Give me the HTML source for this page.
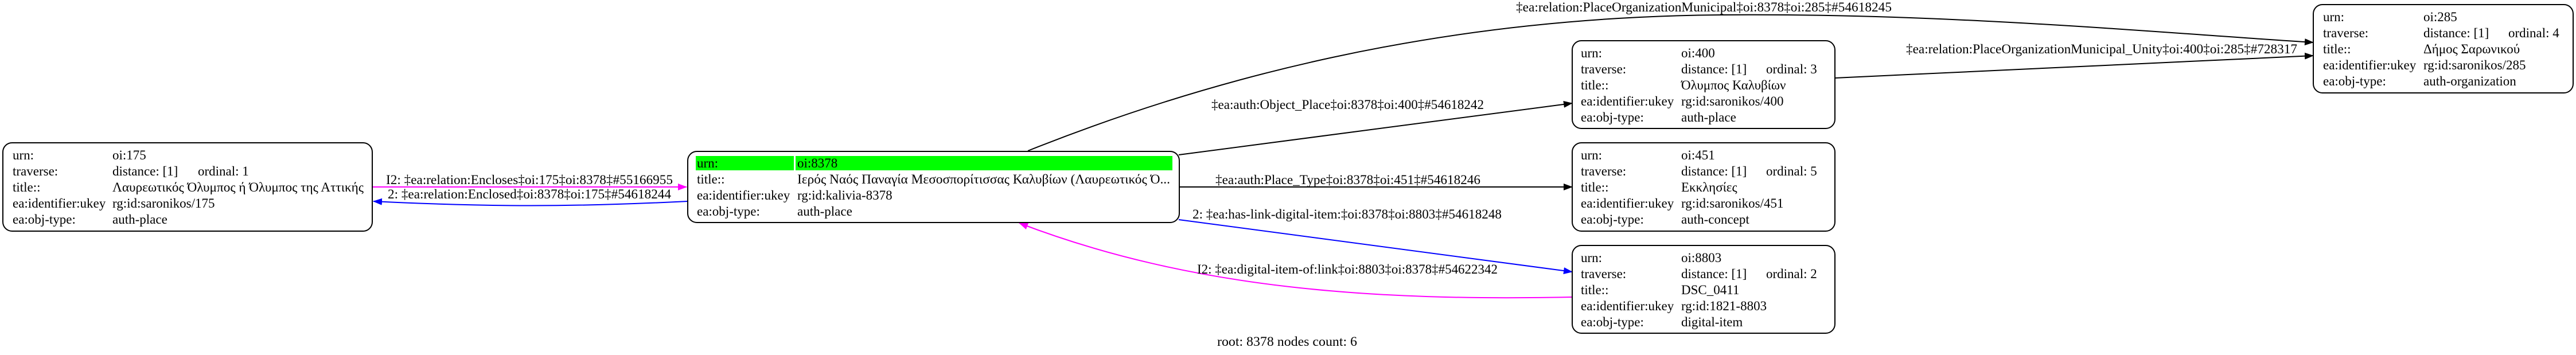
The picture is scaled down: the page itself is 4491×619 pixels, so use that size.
<!DOCTYPE html>
<html><head><meta charset="utf-8"><style>
html,body{margin:0;padding:0;background:#fff;width:4491px;height:619px;overflow:hidden}
svg{display:block}
text{font-family:"Liberation Serif","Noto Serif CJK SC",serif;font-size:23px;fill:#000}
</style></head><body>
<svg width="4491" height="619" viewBox="0 0 4491 619" xmlns="http://www.w3.org/2000/svg">
<defs>
<marker id="ak" markerWidth="16" markerHeight="12" refX="15" refY="6" orient="auto" markerUnits="userSpaceOnUse"><path d="M0,0 L16,6 L0,12 z" fill="#000"/></marker>
<marker id="ab" markerWidth="16" markerHeight="12" refX="15" refY="6" orient="auto" markerUnits="userSpaceOnUse"><path d="M0,0 L16,6 L0,12 z" fill="#0000ff"/></marker>
<marker id="am" markerWidth="16" markerHeight="12" refX="15" refY="6" orient="auto" markerUnits="userSpaceOnUse"><path d="M0,0 L16,6 L0,12 z" fill="#ff00ff"/></marker>
</defs>

<path d="M649,326 L1197,326" stroke="#ff00ff" stroke-width="2" fill="none" marker-end="url(#am)"/>
<path d="M1199,351 C1000,361 850,361 651,351" stroke="#0000ff" stroke-width="2" fill="none" marker-end="url(#ab)"/>
<path d="M1792,263 C2100,140 2500,30 3000,26 C3400,22 3800,60 4033,74" stroke="#000" stroke-width="2" fill="none" marker-end="url(#ak)"/>
<path d="M2055,270 L2741,180" stroke="#000" stroke-width="2" fill="none" marker-end="url(#ak)"/>
<path d="M2055,326 L2741,326" stroke="#000" stroke-width="2" fill="none" marker-end="url(#ak)"/>
<path d="M2055,383 L2741,474" stroke="#0000ff" stroke-width="2" fill="none" marker-end="url(#ab)"/>
<path d="M2741,518 C2400,525 2080,505 1777,389" stroke="#ff00ff" stroke-width="2" fill="none" marker-end="url(#am)"/>
<path d="M3199,136 L4033,97" stroke="#000" stroke-width="2" fill="none" marker-end="url(#ak)"/>

<text x="673" y="321" textLength="500" lengthAdjust="spacingAndGlyphs">I2: ‡ea:relation:Encloses‡oi:175‡oi:8378‡#55166955</text>
<text x="676" y="346" textLength="494" lengthAdjust="spacingAndGlyphs">2: ‡ea:relation:Enclosed‡oi:8378‡oi:175‡#54618244</text>
<text x="2643" y="20" textLength="655" lengthAdjust="spacingAndGlyphs">‡ea:relation:PlaceOrganizationMunicipal‡oi:8378‡oi:285‡#54618245</text>
<text x="2112" y="190" textLength="475" lengthAdjust="spacingAndGlyphs">‡ea:auth:Object_Place‡oi:8378‡oi:400‡#54618242</text>
<text x="2119" y="321" textLength="462" lengthAdjust="spacingAndGlyphs">‡ea:auth:Place_Type‡oi:8378‡oi:451‡#54618246</text>
<text x="2079" y="381" textLength="539" lengthAdjust="spacingAndGlyphs">2: ‡ea:has-link-digital-item:‡oi:8378‡oi:8803‡#54618248</text>
<text x="2087" y="477" textLength="524" lengthAdjust="spacingAndGlyphs">I2: ‡ea:digital-item-of:link‡oi:8803‡oi:8378‡#54622342</text>
<text x="3323" y="93" textLength="682" lengthAdjust="spacingAndGlyphs">‡ea:relation:PlaceOrganizationMunicipal_Unity‡oi:400‡oi:285‡#728317</text>
<text x="2122" y="603" textLength="244" lengthAdjust="spacingAndGlyphs">root: 8378 nodes count: 6</text>

<rect x="5" y="249" width="644" height="154" rx="16" fill="#fff" stroke="#000" stroke-width="2"/>
<text x="22" y="278">urn:</text><text x="196" y="278">oi:175</text>
<text x="22" y="306">traverse:</text><text x="196" y="306">distance: [1]</text><text x="345" y="306">ordinal: 1</text>
<text x="22" y="334">title::</text><text x="196" y="334" textLength="438" lengthAdjust="spacingAndGlyphs">Λαυρεωτικός Όλυμπος ή Όλυμπος της Αττικής</text>
<text x="22" y="362">ea:identifier:ukey</text><text x="196" y="362">rg:id:saronikos/175</text>
<text x="22" y="390">ea:obj-type:</text><text x="196" y="390">auth-place</text>

<rect x="1199" y="264" width="857" height="124" rx="16" fill="#fff" stroke="#000" stroke-width="2"/>
<rect x="1213" y="272" width="171" height="25" fill="#00ff00"/>
<rect x="1387" y="272" width="657" height="25" fill="#00ff00"/>
<text x="1215" y="292">urn:</text><text x="1390" y="292">oi:8378</text>
<text x="1215" y="320">title::</text><text x="1390" y="320" textLength="650" lengthAdjust="spacingAndGlyphs">Ιερός Ναός Παναγία Μεσοσπορίτισσας Καλυβίων (Λαυρεωτικός Ό...</text>
<text x="1215" y="348">ea:identifier:ukey</text><text x="1390" y="348">rg:id:kalivia-8378</text>
<text x="1215" y="376">ea:obj-type:</text><text x="1390" y="376">auth-place</text>

<rect x="2741" y="71" width="458" height="153" rx="16" fill="#fff" stroke="#000" stroke-width="2"/>
<text x="2756" y="100">urn:</text><text x="2931" y="100">oi:400</text>
<text x="2756" y="128">traverse:</text><text x="2931" y="128">distance: [1]</text><text x="3079" y="128">ordinal: 3</text>
<text x="2756" y="156">title::</text><text x="2931" y="156">Όλυμπος Καλυβίων</text>
<text x="2756" y="184">ea:identifier:ukey</text><text x="2931" y="184">rg:id:saronikos/400</text>
<text x="2756" y="212">ea:obj-type:</text><text x="2931" y="212">auth-place</text>

<rect x="2741" y="249" width="458" height="154" rx="16" fill="#fff" stroke="#000" stroke-width="2"/>
<text x="2756" y="278">urn:</text><text x="2931" y="278">oi:451</text>
<text x="2756" y="306">traverse:</text><text x="2931" y="306">distance: [1]</text><text x="3079" y="306">ordinal: 5</text>
<text x="2756" y="334">title::</text><text x="2931" y="334">Εκκλησίες</text>
<text x="2756" y="362">ea:identifier:ukey</text><text x="2931" y="362">rg:id:saronikos/451</text>
<text x="2756" y="390">ea:obj-type:</text><text x="2931" y="390">auth-concept</text>

<rect x="2741" y="428" width="458" height="153" rx="16" fill="#fff" stroke="#000" stroke-width="2"/>
<text x="2756" y="457">urn:</text><text x="2931" y="457">oi:8803</text>
<text x="2756" y="485">traverse:</text><text x="2931" y="485">distance: [1]</text><text x="3079" y="485">ordinal: 2</text>
<text x="2756" y="513">title::</text><text x="2931" y="513">DSC_0411</text>
<text x="2756" y="541">ea:identifier:ukey</text><text x="2931" y="541">rg:id:1821-8803</text>
<text x="2756" y="569">ea:obj-type:</text><text x="2931" y="569">digital-item</text>

<rect x="4033" y="8" width="453" height="154" rx="16" fill="#fff" stroke="#000" stroke-width="2"/>
<text x="4050" y="37">urn:</text><text x="4225" y="37">oi:285</text>
<text x="4050" y="65">traverse:</text><text x="4225" y="65">distance: [1]</text><text x="4373" y="65">ordinal: 4</text>
<text x="4050" y="93">title::</text><text x="4225" y="93">Δήμος Σαρωνικού</text>
<text x="4050" y="121">ea:identifier:ukey</text><text x="4225" y="121">rg:id:saronikos/285</text>
<text x="4050" y="149">ea:obj-type:</text><text x="4225" y="149">auth-organization</text>
</svg>
</body></html>
